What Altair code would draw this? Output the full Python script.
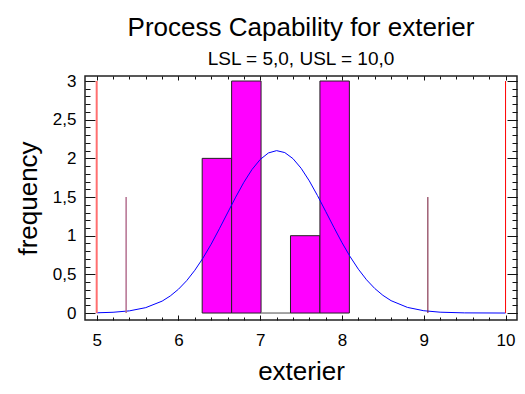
import altair as alt
import pandas as pd

# ---- data ----
bin_lo = [6.29, 6.65, 7.01, 7.37, 7.73]
bin_hi = [6.65, 7.01, 7.37, 7.73, 8.09]
counts = [2, 3, 0, 1, 3]

curve_x = [5.0, 5.2, 5.4, 5.6, 5.8, 5.9, 6.0, 6.1, 6.2, 6.3, 6.4, 6.5, 6.6, 6.7, 6.8,
           6.9, 7.0, 7.1, 7.2, 7.3, 7.4, 7.5, 7.6, 7.7, 7.8, 7.9, 8.0, 8.1, 8.2, 8.3,
           8.4, 8.5, 8.6, 8.8, 9.0, 9.2, 9.5, 10.0]
curve_y = [0.003, 0.010, 0.028, 0.070, 0.154, 0.221, 0.308, 0.418, 0.553, 0.711, 0.891,
           1.089, 1.294, 1.499, 1.691, 1.857, 1.986, 2.070, 2.100, 2.075, 1.997, 1.872,
           1.709, 1.519, 1.315, 1.109, 0.910, 0.728, 0.567, 0.430, 0.318, 0.229, 0.160,
           0.073, 0.030, 0.011, 0.002, 0.000]

spec_x = [5.0, 10.0]
spec_top = [3.0, 3.0]
spec_name = ["LSL", "USL"]

sigma_x = [5.36, 9.05]
sigma_top = [1.5, 1.5]
sigma_name = ["-3 sigma", "+3 sigma"]

x_major = [5, 6, 7, 8, 9, 10]
x_minor = [round(5 + 0.2 * i, 1) for i in range(26)]
y_major = [0, 0.5, 1, 1.5, 2, 2.5, 3]
y_minor = [round(0.1 * i, 1) for i in range(31)]

bars = pd.DataFrame({"lo": bin_lo, "hi": bin_hi, "count": counts, "base": [0] * len(counts)})
curve = pd.DataFrame({"x": curve_x, "y": curve_y})
spec = pd.DataFrame({"x": spec_x, "top": spec_top, "name": spec_name, "base": [0, 0]})
sigma = pd.DataFrame({"x": sigma_x, "top": sigma_top, "name": sigma_name, "base": [0, 0]})

FONT = "Liberation Sans"
xs = alt.Scale(domain=[4.857, 10.14], nice=False, zero=False)
ys = alt.Scale(domain=[-0.09, 3.065], nice=False, zero=False)


def tick_axis(orient, values, size):
    return alt.Axis(orient=orient, values=values, tickSize=size, offset=-size,
                    labels=False, domain=False, grid=False, title=None,
                    tickColor="#111", tickWidth=1)


x_label_axis = alt.Axis(orient="bottom", values=x_major, ticks=False, domain=False,
                        grid=False, labelPadding=12, labelFontSize=17, labelFont=FONT,
                        labelColor="black", title="exterier", titleFontSize=26,
                        titleFont=FONT, titleFontWeight="normal", titleColor="black",
                        titlePadding=10)
y_label_axis = alt.Axis(orient="left", values=y_major, ticks=False, domain=False,
                        grid=False, labelPadding=9, labelFontSize=17, labelFont=FONT,
                        labelColor="black", format="~g",
                        labelExpr="replace(datum.label, '.', ',')",
                        title="frequency", titleFontSize=26, titleFont=FONT,
                        titleFontWeight="normal", titleColor="black", titlePadding=11)

bar_layer = alt.Chart(bars).mark_rect(fill="#ff00ff", strokeWidth=1).encode(
    x=alt.X("lo:Q", scale=xs, axis=x_label_axis),
    x2="hi:Q",
    y=alt.Y("count:Q", scale=ys, axis=y_label_axis),
    y2="base:Q",
    stroke=alt.condition("datum.count == 0", alt.value("#888888"), alt.value("#222222")),
)

curve_layer = alt.Chart(curve).mark_line(color="#0000ff", strokeWidth=1).encode(
    x=alt.X("x:Q", scale=xs, axis=tick_axis("bottom", x_major, 5)),
    y=alt.Y("y:Q", scale=ys, axis=tick_axis("left", y_major, 10)),
)

spec_layer = alt.Chart(spec).mark_rule().encode(
    x=alt.X("x:Q", scale=xs, axis=tick_axis("bottom", x_minor, 3)),
    y=alt.Y("top:Q", scale=ys, axis=tick_axis("left", y_minor, 5)),
    y2="base:Q",
    color=alt.Color("name:N", scale=alt.Scale(domain=spec_name, range=["#ff7070", "#ff0000"]),
                    legend=None),
    strokeWidth=alt.StrokeWidth("name:N", scale=alt.Scale(domain=spec_name, range=[2, 1]),
                                legend=None),
)

sigma_layer = alt.Chart(sigma).mark_rule().encode(
    x=alt.X("x:Q", scale=xs, axis=tick_axis("top", x_major, 4)),
    y=alt.Y("top:Q", scale=ys, axis=tick_axis("right", y_major, 10)),
    y2="base:Q",
    color=alt.Color("name:N", scale=alt.Scale(domain=sigma_name, range=["#b47090", "#701030"]),
                    legend=None),
    strokeWidth=alt.StrokeWidth("name:N", scale=alt.Scale(domain=sigma_name, range=[1.5, 1]),
                                legend=None),
)

ghost_layer = alt.Chart(curve).mark_point(opacity=0).encode(
    x=alt.X("x:Q", scale=xs, axis=tick_axis("top", x_minor, 3)),
    y=alt.Y("y:Q", scale=ys, axis=tick_axis("right", y_minor, 5)),
)

chart = alt.layer(bar_layer, curve_layer, spec_layer, sigma_layer, ghost_layer).resolve_axis(
    x="independent", y="independent"
).resolve_scale(color="independent", strokeWidth="independent").properties(
    width=432,
    height=244,
    padding={"left": 85, "top": 76, "right": 8, "bottom": 74},
    autosize=alt.AutoSizeParams(type="none"),
    background="white",
    title=alt.TitleParams(
        text="Process Capability for exterier",
        subtitle="LSL = 5,0, USL = 10,0",
        font=FONT, fontSize=26, fontWeight="normal", color="black",
        subtitleFont=FONT, subtitleFontSize=19, subtitleColor="black",
        anchor="middle", frame="group", offset=3, subtitlePadding=9,
    ),
).configure_view(stroke="#222222", strokeWidth=1.5)

chart.save("out.html", embed_options={"renderer": "svg", "actions": False})
